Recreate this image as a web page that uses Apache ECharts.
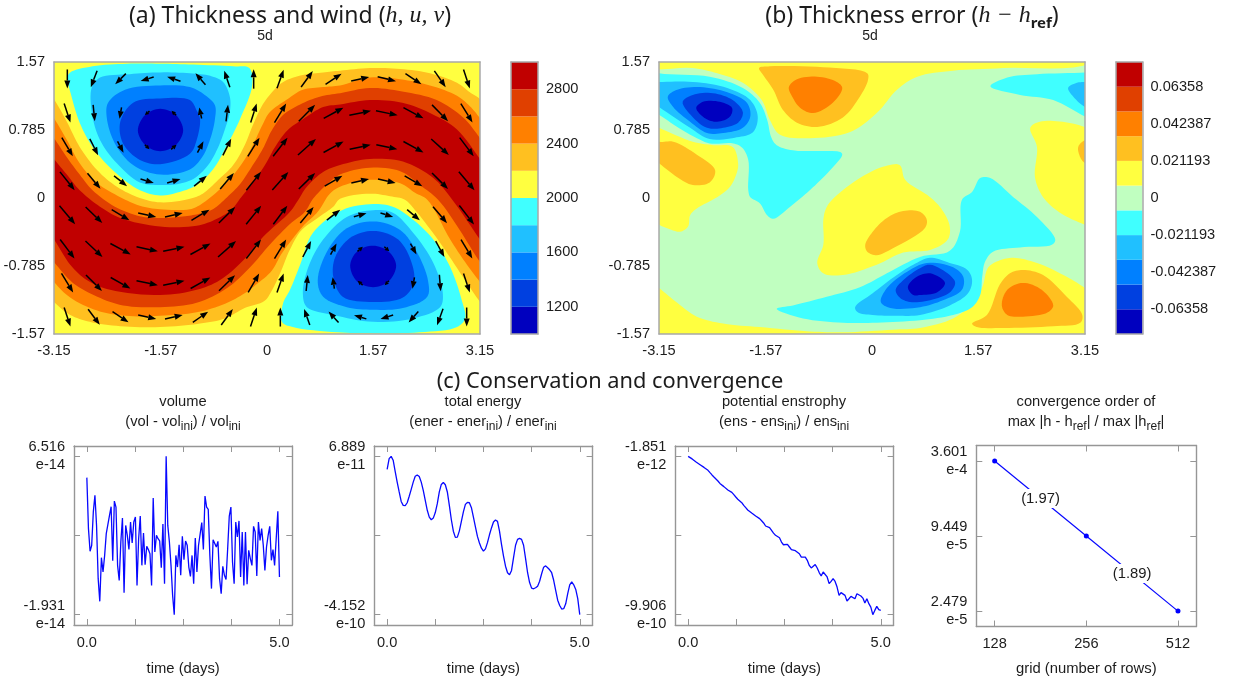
<!DOCTYPE html>
<html><head><meta charset="utf-8">
<script src="https://cdn.jsdelivr.net/npm/echarts@6/dist/echarts.min.js"></script>
<style>html,body{margin:0;padding:0;background:#fff}#c{width:1237px;height:684px}</style>
</head><body><div id="c"></div>
<script>
// ---------- palette ----------
const bandColors = ['#0000bf','#0040e0','#0080ff','#20c0ff','#40ffff','#c0ffc0','#ffff40','#ffc020','#ff8000','#e04000','#c00000'];
const [C1,C2,C3,C4,C5,CG,CY,C7,C8,C9,C10] = bandColors;

// ---------- panel (a) filled contours, [longitude, latitude] ----------
const a2200 = [[-3.36,1.36],[-3.15,1.14],[-2.96,.88],[-2.77,.59],[-2.51,.32],[-2.22,.13],[-1.88,0],[-1.58,-.05],[-1.14,-.01],[-.95,.05],[-.72,.21],[-.50,.38],[-.33,.61],[-.21,.84],[-.07,1.07],[.04,1.19],[.24,1.34],[.53,1.42],[.83,1.45],[1.08,1.47],[1.52,1.50],[1.97,1.49],[2.41,1.44],[2.81,1.33],[3.0,1.22],[3.15,1.14],[3.37,.84],
 [3.37,-1.41],[3.15,-1.20],[2.93,-.95],[2.71,-.69],[2.48,-.43],[2.19,-.14],[2.04,-.02],[1.82,.02],[1.52,.05],[1.08,-.01],[.98,-.10],[.75,-.23],[.50,-.38],[.33,-.61],[.21,-.84],[.07,-1.07],[-.04,-1.19],[-.33,-1.27],[-.62,-1.39],[-.99,-1.45],[-1.58,-1.49],[-2.17,-1.48],[-2.62,-1.43],[-2.91,-1.35],[-3.15,-1.20],[-3.36,-1.0]];
const a2400 = [[-3.36,1.15],[-3.15,.92],[-2.96,.67],[-2.77,.40],[-2.51,.17],[-2.17,.01],[-1.88,-.09],[-1.58,-.13],[-1.14,-.13],[-.99,-.08],[-.77,.05],[-.55,.22],[-.35,.42],[-.21,.61],[-.07,.84],[.04,.99],[.30,1.14],[.53,1.25],[.83,1.28],[1.08,1.30],[1.52,1.39],[1.97,1.37],[2.41,1.30],[2.81,1.18],[3.0,1.06],[3.15,.92],[3.37,.67],
 [3.37,-1.18],[3.15,-.97],[2.93,-.74],[2.71,-.48],[2.37,-.02],[2.19,.06],[1.97,.17],[1.52,.21],[1.08,.13],[.93,.05],[.75,-.16],[.55,-.31],[.36,-.49],[.21,-.65],[.07,-.84],[-.16,-1.0],[-.33,-1.10],[-.62,-1.22],[-1.04,-1.32],[-1.58,-1.36],[-2.10,-1.36],[-2.51,-1.30],[-2.91,-1.15],[-3.15,-.97],[-3.36,-.77]];
const a2600 = [[-3.36,.90],[-3.15,.69],[-2.96,.47],[-2.77,.27],[-2.58,.09],[-2.25,-.10],[-1.88,-.21],[-1.58,-.23],[-1.21,-.21],[-.99,-.18],[-.80,-.13],[-.59,.01],[-.40,.16],[-.21,.38],[-.06,.57],[.07,.78],[.24,.96],[.49,1.08],[.78,1.17],[1.08,1.21],[1.52,1.27],[2.0,1.23],[2.51,1.13],[2.90,.93],[3.15,.69],[3.37,.44],
 [3.37,-.95],[3.15,-.74],[2.85,-.37],[2.53,-.02],[2.26,.15],[1.97,.31],[1.52,.35],[1.08,.27],[.89,.16],[.68,-.01],[.56,-.16],[.34,-.30],[.04,-.54],[-.25,-.80],[-.59,-1.04],[-1.04,-1.21],[-1.58,-1.26],[-2.13,-1.24],[-2.51,-1.14],[-2.87,-.98],[-3.15,-.74],[-3.36,-.54]];
const a2800 = [[-3.36,.67],[-3.15,.45],[-2.96,.27],[-2.77,.09],[-2.47,-.10],[-2.17,-.23],[-1.58,-.33],[-1.04,-.32],[-.74,-.24],[-.52,-.13],[-.40,-.01],[-.21,.18],[-.03,.38],[.12,.59],[.30,.78],[.53,.91],[.83,1.05],[1.08,1.08],[1.52,1.13],[2.0,1.10],[2.44,.97],[2.81,.79],[3.15,.45],[3.37,.21],
 [3.37,-.72],[3.15,-.48],[2.74,-.02],[2.46,.23],[2.01,.42],[1.52,.45],[1.08,.38],[.83,.30],[.59,.13],[.44,-.05],[.34,-.16],[-.06,-.45],[-.35,-.72],[-.70,-.95],[-1.04,-1.06],[-1.58,-1.12],[-2.32,-1.06],[-2.66,-.95],[-2.91,-.77],[-3.15,-.48],[-3.36,-.28]];
const aNorth2000 = [[-2.91,1.45],[-2.58,1.52],[-2.07,1.55],[-1.58,1.55],[-1.09,1.54],[-.50,1.52],[-.26,1.50],[-.22,1.30],[-.40,.91],[-.59,.61],[-.80,.33],[-1.04,.15],[-1.29,.07],[-1.58,.03],[-1.88,.09],[-2.28,.32],[-2.58,.59],[-2.77,.87],[-2.89,1.17],[-2.95,1.39]];
const aNorth1800 = [[-2.59,1.28],[-2.47,1.39],[-2.03,1.43],[-1.58,1.45],[-1.14,1.44],[-.84,1.41],[-.65,1.34],[-.55,1.17],[-.55,.99],[-.62,.80],[-.72,.59],[-.87,.38],[-1.09,.22],[-1.33,.16],[-1.58,.15],[-1.88,.18],[-2.22,.40],[-2.47,.67],[-2.59,.98]];
const aNorth1600 = [[-1.58,1.30],[-2.10,1.25],[-2.35,1.10],[-2.37,.93],[-2.25,.63],[-1.98,.38],[-1.58,.27],[-1.14,.33],[-.96,.47],[-.84,.68],[-.77,.91],[-.77,1.07],[-.92,1.19],[-1.14,1.28]];
const aNorth1400 = [[-1.58,1.15],[-1.98,1.10],[-2.17,.88],[-2.13,.63],[-1.88,.44],[-1.58,.39],[-1.14,.51],[-1.04,.67],[-.99,.91],[-1.04,1.01],[-1.14,1.13]];
const aNorth1200 = [[-1.58,1.03],[-1.35,.96],[-1.24,.78],[-1.35,.61],[-1.58,.54],[-1.80,.61],[-1.91,.78],[-1.80,.96]];
const aSouth2000 = [[1.57,-.07],[1.11,-.14],[.68,-.40],[.49,-.77],[.34,-1.06],[.24,-1.21],[.22,-1.43],[.38,-1.49],[1.04,-1.55],[1.57,-1.56],[2.26,-1.55],[2.81,-1.49],[2.93,-1.39],[2.88,-1.18],[2.71,-.80],[2.46,-.48],[2.16,-.25],[1.86,-.10]];
const aSouth1800 = [[1.57,-.14],[1.18,-.22],[.83,-.48],[.61,-.80],[.53,-1.10],[.59,-1.26],[.98,-1.35],[1.57,-1.43],[2.16,-1.39],[2.56,-1.26],[2.60,-1.10],[2.46,-.75],[2.16,-.40],[1.86,-.17]];
const aSouth1600 = [[1.57,-.27],[1.18,-.35],[.90,-.60],[.75,-.95],[.83,-1.14],[1.18,-1.26],[1.57,-1.29],[2.01,-1.27],[2.37,-1.14],[2.38,-.95],[2.22,-.63],[1.97,-.37]];
const aSouth1400 = [[1.57,-.38],[1.23,-.46],[1.01,-.68],[.98,-.91],[1.12,-1.14],[1.57,-1.20],[2.01,-1.15],[2.17,-.98],[2.14,-.75],[1.94,-.48]];
const aSouth1200 = [[1.57,-.55],[1.80,-.62],[1.91,-.78],[1.80,-.96],[1.57,-1.03],[1.33,-.96],[1.23,-.78],[1.33,-.62]];
const aContours = [[a2200,C7],[a2400,C8],[a2600,C9],[a2800,C10],
 [aNorth2000,C5],[aNorth1800,C4],[aNorth1600,C3],[aNorth1400,C2],[aNorth1200,C1],
 [aSouth2000,C5],[aSouth1800,C4],[aSouth1600,C3],[aSouth1400,C2],[aSouth1200,C1]];

// ---------- wind on the cell centres ----------
const windLon = [-2.953,-2.559,-2.166,-1.772,-1.378,-.984,-.591,-.197,.197,.591,.984,1.378,1.772,2.166,2.559,2.953];
const windLat = [1.374,.981,.589,.196,-.196,-.589,-.981,-1.374];
const windU = [
 [0,-19,-32,-39,-40,-30,-17,0,20,35,48,54,55,48,34,19],
 [19,5,-6,-14,-14,-7,6,18,35,49,59,65,65,60,48,35],
 [33,25,18,14,16,18,25,35,43,54,60,63,63,60,53,42],
 [44,39,39,40,40,38,41,44,48,49,53,53,53,53,48,47],
 [47,50,53,54,53,54,49,45,42,40,40,38,38,38,42,44],
 [43,51,61,64,64,60,54,44,35,25,18,16,15,18,26,34],
 [35,48,59,64,64,59,48,33,20,5,-5,-15,-13,-6,4,19],
 [19,35,48,54,53,46,35,19,0,-17,-30,-37,-38,-29,-18,0]];
const windV = [
 [-57,-50,-32,-12,14,35,50,58,56,48,32,12,-13,-32,-49,-57],
 [-57,-49,-34,-12,13,33,50,57,57,49,32,13,-13,-32,-49,-57],
 [-56,-49,-34,-13,14,34,50,56,56,48,33,13,-14,-33,-48,-56],
 [-55,-47,-31,-12,12,31,48,55,54,48,31,12,-12,-31,-48,-56],
 [-56,-48,-32,-12,12,32,48,56,56,48,31,11,-12,-32,-49,-57],
 [-57,-48,-33,-14,13,33,48,57,57,48,33,14,-14,-33,-48,-57],
 [-57,-48,-33,-13,13,33,47,57,57,48,34,13,-13,-34,-49,-57],
 [-57,-47,-32,-12,12,32,48,57,57,48,33,11,-12,-33,-49,-57]];

// ---------- panel (b) filled contours ----------
const bTopYellow = [[-3.43,1.8],[-3.43,1.52],[-2.65,1.50],[-2.29,1.44],[-1.91,1.33],[-1.63,1.13],[-1.51,.90],[-1.36,.73],[-.92,.69],[-.33,.76],[.07,.98],[.37,1.25],[.67,1.40],[1.20,1.47],[1.94,1.50],[3.22,1.56],[3.37,1.8]];
const bTopAmber = [[-1.67,1.50],[-1.51,1.52],[-.72,1.51],[-.07,1.44],[-.06,1.36],[-.18,1.17],[-.43,.93],[-.81,.82],[-1.11,.87],[-1.32,1.02],[-1.46,1.25],[-1.61,1.42]];
const bTopOrange = [[-1.23,1.28],[-1.11,1.37],[-.81,1.40],[-.52,1.34],[-.44,1.27],[-.58,1.10],[-.87,.98],[-1.06,1.04],[-1.18,1.17]];
const bLeftYellow = [[-3.43,.90],[-3.15,.81],[-2.65,.65],[-2.35,.61],[-2.06,.59],[-1.98,.40],[-2.0,.29],[-2.10,.13],[-2.29,.01],[-2.59,-.12],[-2.69,-.20],[-2.72,-.33],[-2.84,-.39],[-2.99,-.36],[-3.15,-.31],[-3.43,-.20]];
const bLeftAmber = [[-3.43,.75],[-3.15,.65],[-2.94,.65],[-2.59,.50],[-2.32,.32],[-2.40,.18],[-2.65,.15],[-2.88,.24],[-3.15,.40],[-3.43,.55]];
const bWestCyan = [[-3.43,1.50],[-3.15,1.44],[-2.40,1.40],[-1.91,1.27],[-1.66,1.10],[-1.55,.90],[-1.49,.70],[-1.41,.61],[-1.17,.55],[-.47,.53],[-.44,.50],[-.62,.32],[-.92,.09],[-1.21,-.10],[-1.46,-.24],[-1.55,-.20],[-1.66,-.06],[-1.80,.01],[-1.83,.09],[-1.83,.44],[-1.92,.58],[-2.05,.63],[-2.40,.63],[-2.59,.69],[-2.88,.82],[-3.15,.96],[-3.43,1.07]];
const bWestSky = [[-3.43,1.34],[-3.15,1.34],[-2.65,1.34],[-2.14,1.27],[-1.80,1.13],[-1.69,.94],[-1.76,.76],[-2.0,.70],[-2.40,.68],[-2.69,.81],[-3.15,1.05],[-3.43,1.19]];
const bWestAzure = [[-3.02,1.17],[-2.88,1.25],[-2.54,1.28],[-2.14,1.22],[-1.85,1.10],[-1.80,.94],[-1.91,.81],[-2.20,.75],[-2.44,.75],[-2.69,.88],[-2.94,1.05]];
const bWestBlue = [[-2.80,1.11],[-2.65,1.19],[-2.35,1.21],[-2.06,1.13],[-1.91,.99],[-1.98,.87],[-2.20,.81],[-2.44,.81],[-2.66,.94]];
const bWestNavy = [[-2.60,1.04],[-2.50,1.11],[-2.25,1.11],[-2.07,1.04],[-2.10,.94],[-2.29,.88],[-2.47,.92]];
const bMidYellow = [[-.59,-.02],[-.22,.21],[.16,.36],[.41,.38],[.49,.21],[.86,.01],[1.04,-.14],[1.15,-.33],[1.12,-.48],[.86,-.60],[.46,-.63],[.07,-.77],[-.43,-.89],[-.72,-.87],[-.81,-.75],[-.72,-.54],[-.72,-.25],[-.68,-.12]];
const bMidAmber = [[-.10,-.54],[-.07,-.62],[.07,-.66],[.31,-.58],[.78,-.35],[.81,-.25],[.71,-.16],[.46,-.15],[.22,-.23],[.01,-.39]];
const bLowYellow = [[-3.43,-.89],[-3.15,-1.04],[-2.88,-1.21],[-2.59,-1.37],[-2.20,-1.45],[-1.66,-1.49],[-.92,-1.54],[-.43,-1.55],[.31,-1.52],[.71,-1.50],[1.20,-1.39],[1.49,-1.21],[1.63,-1.03],[1.72,-.80],[1.89,-.72],[2.09,-.69],[2.44,-.75],[2.88,-.91],[3.15,-1.04],[3.37,-1.18],[3.37,-1.9],[-3.43,-1.9]];
const bLowAmber = [[1.48,-1.45],[1.70,-1.35],[1.89,-1.0],[2.04,-.87],[2.23,-.83],[2.53,-.89],[2.88,-1.14],[3.11,-1.35],[3.08,-1.44],[2.68,-1.48],[1.94,-1.50],[1.55,-1.49]];
const bLowOrange = [[1.92,-1.24],[2.0,-1.06],[2.23,-.98],[2.51,-1.06],[2.68,-1.24],[2.60,-1.32],[2.23,-1.37],[2.0,-1.35]];
const bEastYellow = [[2.34,.81],[2.48,.88],[2.82,.88],[3.15,.82],[3.45,.73],[3.45,-.39],[3.15,-.31],[2.78,-.17],[2.53,.01],[2.41,.24],[2.44,.59]];
const bEastAmber = [[3.45,.73],[3.15,.67],[3.05,.59],[3.08,.47],[3.15,.40],[3.45,.27]];
const bEastCyan = [[1.75,1.29],[2.0,1.39],[2.44,1.43],[3.15,1.45],[3.45,1.48],[3.45,.84],[3.15,.94],[2.68,1.13],[2.19,1.19]];
const bEastSky = [[2.90,1.27],[3.03,1.33],[3.15,1.34],[3.45,1.36],[3.45,.96],[3.15,1.05],[3.0,1.15]];
const bLowCyan = [[-1.41,-1.28],[-1.17,-1.24],[-.67,-1.14],[-.18,-1.03],[.22,-.87],[.71,-.68],[1.15,-.61],[1.30,-.39],[1.33,-.02],[1.48,.07],[1.60,.23],[1.75,.23],[2.09,.01],[2.44,-.22],[2.71,-.48],[2.66,-.54],[2.19,-.57],[1.79,-.62],[1.67,-.74],[1.63,-.91],[1.60,-1.12],[1.48,-1.26],[1.20,-1.35],[.71,-1.41],[.07,-1.44],[-.43,-1.44],[-1.02,-1.39]];
const bLowSky = [[-.25,-1.26],[.01,-1.10],[.31,-.92],[.61,-.77],[.86,-.69],[1.11,-.74],[1.41,-.83],[1.48,-.95],[1.42,-1.10],[1.15,-1.24],[.71,-1.35],[.37,-1.36],[.01,-1.35],[-.21,-1.32]];
const bLowAzure = [[.13,-1.20],[.22,-1.04],[.52,-.85],[.81,-.75],[1.20,-.80],[1.35,-.91],[1.33,-1.06],[1.05,-1.18],[.71,-1.26],[.27,-1.27]];
const bLowBlue = [[.35,-1.06],[.46,-.95],[.71,-.81],[.86,-.77],[1.15,-.89],[1.23,-.98],[1.15,-1.09],[.86,-1.18],[.56,-1.20],[.41,-1.15]];
const bLowNavy = [[.53,-1.03],[.64,-.92],[.86,-.87],[1.08,-.98],[.96,-1.09],[.71,-1.12],[.61,-1.12]];
const bContours = [[bTopYellow,CY],[bTopAmber,C7],[bTopOrange,C8],[bLeftYellow,CY],[bLeftAmber,C7],
 [bWestCyan,C5],[bWestSky,C4],[bWestAzure,C3],[bWestBlue,C2],[bWestNavy,C1],
 [bMidYellow,CY],[bMidAmber,C7],[bLowYellow,CY],[bLowAmber,C7],[bLowOrange,C8],
 [bEastYellow,CY],[bEastAmber,C7],[bEastCyan,C5],[bEastSky,C4],
 [bLowCyan,C5],[bLowSky,C4],[bLowAzure,C3],[bLowBlue,C2],[bLowNavy,C1]];

// ---------- colour bars ----------
const levelsA = [1000,1200,1400,1600,1800,2000,2200,2400,2600,2800,3000];
const colorsA = [C1,C2,C3,C4,C5,CY,C7,C8,C9,C10];
const ticksA = [1200,1600,2000,2400,2800];
const levelsB = [-0.07771,-0.063581,-0.049452,-0.035323,-0.021194,-0.007065,0.007065,0.021194,0.035323,0.049452,0.063581,0.07771];
const colorsB = bandColors;
const ticksB = [-0.06358,-0.042387,-0.021193,0,0.021193,0.042387,0.06358];
const geoXTicks = [-3.15,-1.57,0,1.57,3.15];
const geoYTicks = [-1.57,-0.785,0,0.785,1.57];

// ---------- time series (values in the stated power of ten) ----------
const volumeE14 = [5.38,2.66,1.45,1.77,3.55,4.44,2.83,-.01,-1.22,1.11,.35,1.23,2.39,2.41,3.37,3.83,.95,4.13,3.81,.70,-.10,1.95,3.23,-.76,2.83,2.30,1.55,3.01,1.89,3.01,3.28,-.37,2.12,3.33,.70,2.43,.74,1.71,1.54,1.32,-.37,4.29,1.41,2.30,2.12,2.0,.58,2.91,-.28,6.516,2.83,1.95,.70,-.90,-1.931,1.23,.61,1.80,.17,2.25,1.0,2.0,1.77,.61,.11,1.23,-.28,2.16,.35,1.77,1.86,2.98,1.55,4.40,3.81,3.69,1.23,-.54,2.07,1.98,1.68,1.98,-.01,-.81,.65,.17,-.05,1.59,3.33,3.81,.88,-.28,3.01,2.21,3.07,.08,2.48,-.37,2.48,-.31,1.50,1.06,.70,2.78,2.48,.13,3.01,2.03,2.66,1.77,.43,1.68,2.30,2.78,.97,1.54,.70,.74,3.58,.08];
const energyE11 = [2.9,6.2,6.889,5.7,2.3,-1.0,-4.0,-6.9,-8.1,-8.2,-7.3,-5.3,-3.2,-1.0,.8,1.2,.7,-1.0,-3.5,-6.6,-9.6,-11.7,-12.5,-12.0,-10.3,-7.6,-4.0,-1.7,-1.1,-1.8,-4.0,-8.1,-12.5,-16.0,-17.9,-17.8,-15.9,-13.0,-10.1,-7.8,-7.2,-7.3,-8.8,-11.7,-14.7,-17.6,-19.6,-21.2,-22.1,-21.4,-19.5,-17.1,-15.0,-13.2,-12.6,-13.0,-16.0,-20.0,-23.6,-26.7,-28.7,-29.3,-28.0,-24.1,-20.3,-18.5,-18.2,-18.5,-20.3,-24.4,-28.7,-31.7,-33.4,-33.6,-33.3,-32.8,-31.3,-29.0,-27.0,-26.6,-27.2,-27.8,-28.7,-31.0,-34.1,-37.1,-38.7,-39.8,-39.7,-38.2,-35.1,-32.4,-31.5,-32.4,-33.8,-36.6,-41.52];
const enstrophyE10 = [-.02,-.08,-.18,-.27,-.37,-.46,-.54,-.62,-.71,-.79,-.89,-1.04,-1.18,-1.31,-1.43,-1.56,-1.71,-1.81,-1.91,-2.02,-2.12,-2.22,-2.27,-2.41,-2.56,-2.70,-2.81,-2.91,-3.08,-3.22,-3.37,-3.45,-3.56,-3.64,-3.74,-3.83,-3.91,-4.04,-4.18,-4.37,-4.45,-4.47,-4.54,-4.81,-4.95,-4.99,-5.10,-5.37,-5.54,-5.56,-5.51,-5.68,-5.85,-5.93,-5.91,-5.85,-6.10,-6.31,-6.35,-6.31,-6.51,-6.83,-6.99,-6.91,-6.78,-6.99,-7.28,-7.49,-7.24,-7.24,-7.55,-7.97,-7.83,-7.66,-7.83,-8.18,-8.70,-8.53,-8.45,-8.70,-9.05,-8.91,-8.76,-8.66,-8.91,-8.60,-8.70,-8.74,-8.87,-9.18,-8.91,-9.22,-9.43,-9.906,-9.64,-9.39,-9.59,-9.64];
const timeTicks = [0,1.25,2.5,3.75,5];
const timeLabels = [0,5];
const volumeTicks = [-1.931,2.2925,6.516];
const energyTicks = [-41.52,-17.3155,6.889];
const enstrophyTicks = [-9.906,-4.962,-0.01851];
const volumeTickText = {'-1.931':'-1.931\ne-14','6.516':'6.516\ne-14'};
const energyTickText = {'-41.52':'-4.152\ne-10','6.889':'6.889\ne-11'};
const enstrophyTickText = {'-9.906':'-9.906\ne-10','-0.01851':'-1.851\ne-12'};
const gridRows = [128,256,512];
const convergenceError = [3.601e-4,9.449e-5,2.479e-5];
const convergenceTickText = ['3.601\ne-4','9.449\ne-5','2.479\ne-5'];
const orderLabels = ['(1.97)','(1.89)'];

// ---------- helpers ----------
const SANS = '"Liberation Sans", Arial, sans-serif';
const TXT = '#1c1c1c';
const grids = [], xAxes = [], yAxes = [], series = [], graphics = [];

function addPanel(rect, xCfg, yCfg, o) {
  const gi = grids.length;
  grids.push(Object.assign({show:false}, rect));
  const border = o.border, tick = o.tick;
  const base = () => ({gridIndex:gi, z:60, splitLine:{show:false}, minorTick:{show:false},
    axisLine:{show:true, onZero:false, lineStyle:{color:border, width:o.bw}}});
  const lab = {color:TXT, fontFamily:SANS, fontSize:14.6};
  const mk = (cfg, pos, withLabels) => {
    const a = Object.assign(base(), {type:cfg.type||'value', min:cfg.min, max:cfg.max, position:pos});
    if (cfg.logBase) a.logBase = cfg.logBase;
    a.axisTick = {show:!!tick && !!cfg.ticks, inside:true, length:tick||0, lineStyle:{color:border, width:1}};
    if (cfg.ticks) a.axisTick.customValues = cfg.ticks;
    if (cfg.logTicks) { a.axisTick = {show:true, inside:true, length:tick, lineStyle:{color:border, width:1}}; }
    a.axisLabel = {show:false};
    if (withLabels && cfg.labels) {
      a.axisLabel = Object.assign({show:true, customValues:cfg.labels, margin:cfg.margin===undefined?9:cfg.margin, formatter:cfg.fmt||(v=>String(v)), hideOverlap:false}, lab, cfg.labelStyle||{});
    }
    if (withLabels && cfg.logLabels) {
      a.axisLabel = Object.assign({show:true, margin:cfg.margin===undefined?9:cfg.margin, showMinLabel:false, showMaxLabel:false, formatter:cfg.fmt}, lab);
    }
    if (withLabels && cfg.name) {
      a.name = cfg.name; a.nameLocation = 'middle'; a.nameGap = cfg.nameGap;
      a.nameTextStyle = {color:TXT, fontFamily:SANS, fontSize:14.8};
    }
    return a;
  };
  const xi = xAxes.length, yi = yAxes.length;
  xAxes.push(mk(xCfg, 'bottom', true), mk(xCfg, 'top', false));
  yAxes.push(mk(yCfg, yCfg.labelRight?'right':'left', true), mk(yCfg, yCfg.labelRight?'left':'right', false));
  return {x:xi, y:yi};
}

// closes a contour through its read points with a centripetal Catmull-Rom outline
function outline(pts) {
  const n = pts.length, out = [], steps = 8;
  const tj = (a,b,t) => t + Math.pow(Math.hypot(b[0]-a[0], b[1]-a[1]), 0.5) + 1e-6;
  const mix = (a,b,ta,tb,t) => [(tb-t)/(tb-ta)*a[0]+(t-ta)/(tb-ta)*b[0], (tb-t)/(tb-ta)*a[1]+(t-ta)/(tb-ta)*b[1]];
  for (let i=0;i<n;i++) {
    const p0=pts[(i-1+n)%n], p1=pts[i], p2=pts[(i+1)%n], p3=pts[(i+2)%n];
    const t0=0, t1=tj(p0,p1,t0), t2=tj(p1,p2,t1), t3=tj(p2,p3,t2);
    for (let s=0;s<steps;s++) {
      const t=t1+(t2-t1)*s/steps;
      const a1=mix(p0,p1,t0,t1,t), a2=mix(p1,p2,t1,t2,t), a3=mix(p2,p3,t2,t3,t);
      const b1=mix(a1,a2,t0,t2,t), b2=mix(a2,a3,t1,t3,t);
      out.push(mix(b1,b2,t1,t2,t));
    }
  }
  return out;
}

let zOrder = 2;
function addPolygon(ax, points, color) {
  series.push({type:'custom', coordinateSystem:'cartesian2d', xAxisIndex:ax.x, yAxisIndex:ax.y, clip:true, silent:true, animation:false, z:zOrder++,
    data:points,
    renderItem:(p, api) => p.dataIndex!==0 ? null : ({type:'polygon', shape:{points:outline(points.map(q=>api.coord(q)))}, style:{fill:color, stroke:null}})
  });
}
function addBackground(ax, cfg, color) {
  const corners = [[cfg.x0,cfg.y0],[cfg.x1,cfg.y0],[cfg.x1,cfg.y1],[cfg.x0,cfg.y1]];
  series.push({type:'custom', coordinateSystem:'cartesian2d', xAxisIndex:ax.x, yAxisIndex:ax.y, clip:true, silent:true, animation:false, z:zOrder++,
    data:corners,
    renderItem:(p, api) => p.dataIndex!==0 ? null : ({type:'polygon', shape:{points:corners.map(q=>api.coord(q))}, style:{fill:color}})
  });
}
function addColorBar(ax, levels, colors) {
  const rows = colors.map((c,i)=>[0,levels[i],levels[i+1],i]);
  series.push({type:'custom', coordinateSystem:'cartesian2d', xAxisIndex:ax.x, yAxisIndex:ax.y, silent:true, animation:false, z:3,
    encode:{x:0,y:[1,2]}, data:rows,
    renderItem:(p, api) => {
      const a = api.coord([0,api.value(1)]), b = api.coord([1,api.value(2)]);
      return {type:'rect', shape:{x:a[0], y:b[1], width:b[0]-a[0], height:a[1]-b[1]}, style:{fill:colors[api.value(3)]}};
    }});
}
function addLine(ax, values) {
  const last = values.length-1;
  series.push({type:'line', xAxisIndex:ax.x, yAxisIndex:ax.y, animation:false, silent:true, showSymbol:false, z:10,
    lineStyle:{color:'#0808ff', width:1.3}, data:values.map((v,i)=>[i/last*5, v])});
}

// ---------- panel a ----------
const geoX = {min:-3.15, max:3.15, labels:geoXTicks};
const geoY = {min:-1.57, max:1.57, labels:geoYTicks};
const mapStyle = {border:'#a8a8a8', bw:1.5, tick:0};
const axA = addPanel({left:54, top:62, width:426, height:272}, geoX, geoY, mapStyle);
addBackground(axA, {x0:-3.15,x1:3.15,y0:-1.57,y1:1.57}, CY);
aContours.forEach(c=>addPolygon(axA, c[0], c[1]));

const windRows = [];
windLat.forEach((la,j)=>windLon.forEach((lo,i)=>windRows.push([lo,la,windU[j][i],windV[j][i]])));
const pxPerWind = 1/3;
series.push({type:'custom', coordinateSystem:'cartesian2d', xAxisIndex:axA.x, yAxisIndex:axA.y, clip:true, silent:true, animation:false, z:zOrder++,
  encode:{x:0,y:1}, data:windRows,
  renderItem:(p, api) => {
    const c = api.coord([api.value(0), api.value(1)]);
    const dx = api.value(2)*pxPerWind, dy = -api.value(3)*pxPerWind;
    const len = Math.hypot(dx,dy)||1, ux = dx/len, uy = dy/len;
    const tail = [c[0]-dx/2, c[1]-dy/2], tip = [c[0]+dx/2, c[1]+dy/2];
    const hl = Math.min(8, len*0.65), hw = Math.min(3, len*0.33);
    const base = [tip[0]-ux*hl, tip[1]-uy*hl];
    return {type:'group', children:[
      {type:'line', shape:{x1:tail[0], y1:tail[1], x2:base[0], y2:base[1]}, style:{stroke:'#000', lineWidth:1.5}},
      {type:'polygon', shape:{points:[tip,[base[0]-uy*hw,base[1]+ux*hw],[base[0]+uy*hw,base[1]-ux*hw]]}, style:{fill:'#000'}}
    ]};
  }});

const barX = {min:0, max:1};
const axCA = addPanel({left:511, top:62, width:27, height:272}, barX, {min:1000, max:3000, labels:ticksA, labelRight:true, margin:8}, mapStyle);
addColorBar(axCA, levelsA, colorsA);

// ---------- panel b ----------
const axB = addPanel({left:659, top:62, width:426, height:272}, geoX, geoY, mapStyle);
addBackground(axB, {x0:-3.15,x1:3.15,y0:-1.57,y1:1.57}, CG);
bContours.forEach(c=>addPolygon(axB, c[0], c[1]));
const axCB = addPanel({left:1116, top:62, width:26.5, height:272}, barX, {min:-0.07771, max:0.07771, labels:ticksB, labelRight:true, margin:8}, mapStyle);
addColorBar(axCB, levelsB, colorsB);

// ---------- lower panels ----------
const lowStyle = {border:'#969696', bw:1.4, tick:6};
const timeAxis = {min:-1/3, max:16/3, ticks:timeTicks, labels:timeLabels, fmt:v=>v.toFixed(1), name:'time (days)', nameGap:36, margin:10};
const valueAxis = (ticks, text, low, high) => ({min:low, max:high, ticks:ticks, labels:[ticks[0],ticks[2]],
   fmt:v=>text[String(v)], labelStyle:{lineHeight:18, align:'right'}, margin:9});
const rowTop = 446, rowH = 179;
const ax1 = addPanel({left:74, top:rowTop, width:218.3, height:rowH}, timeAxis, valueAxis(volumeTicks, volumeTickText, -2.482, 7.067), lowStyle);
addLine(ax1, volumeE14);
const ax2 = addPanel({left:374.3, top:rowTop, width:218.3, height:rowH}, timeAxis, valueAxis(energyTicks, energyTickText, -44.68, 10.05), lowStyle);
addLine(ax2, energyE11);
const ax3 = addPanel({left:675.3, top:rowTop, width:218.3, height:rowH}, timeAxis, valueAxis(enstrophyTicks, enstrophyTickText, -10.551, 0.6268), lowStyle);
addLine(ax3, enstrophyE10);

const logErr = convergenceError.map(v=>Math.log10(v));
const ax4 = addPanel({left:976.3, top:445.5, width:220, height:181},
  {type:'log', logBase:2, min:111.4, max:588.1, logTicks:true, logLabels:true, fmt:v=>String(Math.round(v)), name:'grid (number of rows)', nameGap:35, margin:10},
  {min:-4.7247, max:-3.3243, ticks:logErr, labels:logErr, fmt:v=>convergenceTickText[logErr.indexOf(v)], labelStyle:{lineHeight:18, align:'right'}, margin:9},
  lowStyle);
series.push({type:'line', xAxisIndex:ax4.x, yAxisIndex:ax4.y, animation:false, silent:true, z:10, symbol:'circle', symbolSize:5,
  lineStyle:{color:'#0808ff', width:1.2}, itemStyle:{color:'#0000ff'},
  data:gridRows.map((g,i)=>[g,logErr[i]])});
series.push({type:'scatter', xAxisIndex:ax4.x, yAxisIndex:ax4.y, animation:false, silent:true, z:11, symbolSize:0, itemStyle:{opacity:1},
  label:{show:true, position:'inside', formatter:p=>p.value[2], color:TXT, opacity:1, fontFamily:SANS, fontSize:14.8, backgroundColor:'#fff', padding:[1,0,1,0], lineHeight:17},
  data:orderLabels.map((t,i)=>[Math.sqrt(gridRows[i]*gridRows[i+1]), (logErr[i]+logErr[i+1])/2, t])});

// ---------- texts ----------
const TITLE = '"Noto Sans", sans-serif';
const titleRich = {
  t:{fontFamily:TITLE, fontSize:23, color:'#1c1c1c'},
  c:{fontFamily:TITLE, fontSize:21.8, color:'#1c1c1c'},
  m:{fontFamily:'"Liberation Serif", serif', fontStyle:'italic', fontSize:24, color:'#1c1c1c'},
  r:{fontFamily:TITLE, fontWeight:'bold', fontSize:15, color:'#1c1c1c', verticalAlign:'bottom', lineHeight:30}
};
function addText(x, y, text, size, rich) {
  graphics.push({type:'text', x, y, silent:true, style:{text, align:'center', verticalAlign:'middle', fontFamily:SANS, fontSize:size, fill:TXT, rich}});
}
addText(290, 16, '{t|(a) Thickness and wind (}{m|h, u, v}{t|)}', 23, titleRich);
addText(912, 16, '{t|(b) Thickness error (}{m|h − h}{r|ref}{t|)}', 23, titleRich);
addText(610, 382, '{c|(c) Conservation and convergence}', 22, titleRich);
addText(265, 36.5, '5d', 14);
addText(870, 36.5, '5d', 14);
const subRich = {
  n:{fontFamily:SANS, fontSize:14.7, color:TXT, lineHeight:18},
  s:{fontFamily:SANS, fontSize:12, color:TXT, lineHeight:22, verticalAlign:'bottom'}
};
addText(183, 413, '{n|volume}\n{n|(vol - vol}{s|ini}{n|) / vol}{s|ini}', 14.7, subRich);
addText(483, 413, '{n|total energy}\n{n|(ener - ener}{s|ini}{n|) / ener}{s|ini}', 14.7, subRich);
addText(784, 413, '{n|potential enstrophy}\n{n|(ens - ens}{s|ini}{n|) / ens}{s|ini}', 14.7, subRich);
addText(1086, 413, '{n|convergence order of}\n{n|max |h - h}{s|ref}{n|| / max |h}{s|ref}{n||}', 14.7, subRich);

const chart = echarts.init(document.getElementById('c'), null, {renderer:'canvas'});
chart.setOption({animation:false, backgroundColor:'#fff', grid:grids, xAxis:xAxes, yAxis:yAxes, series, graphic:graphics});
</script></body></html>
